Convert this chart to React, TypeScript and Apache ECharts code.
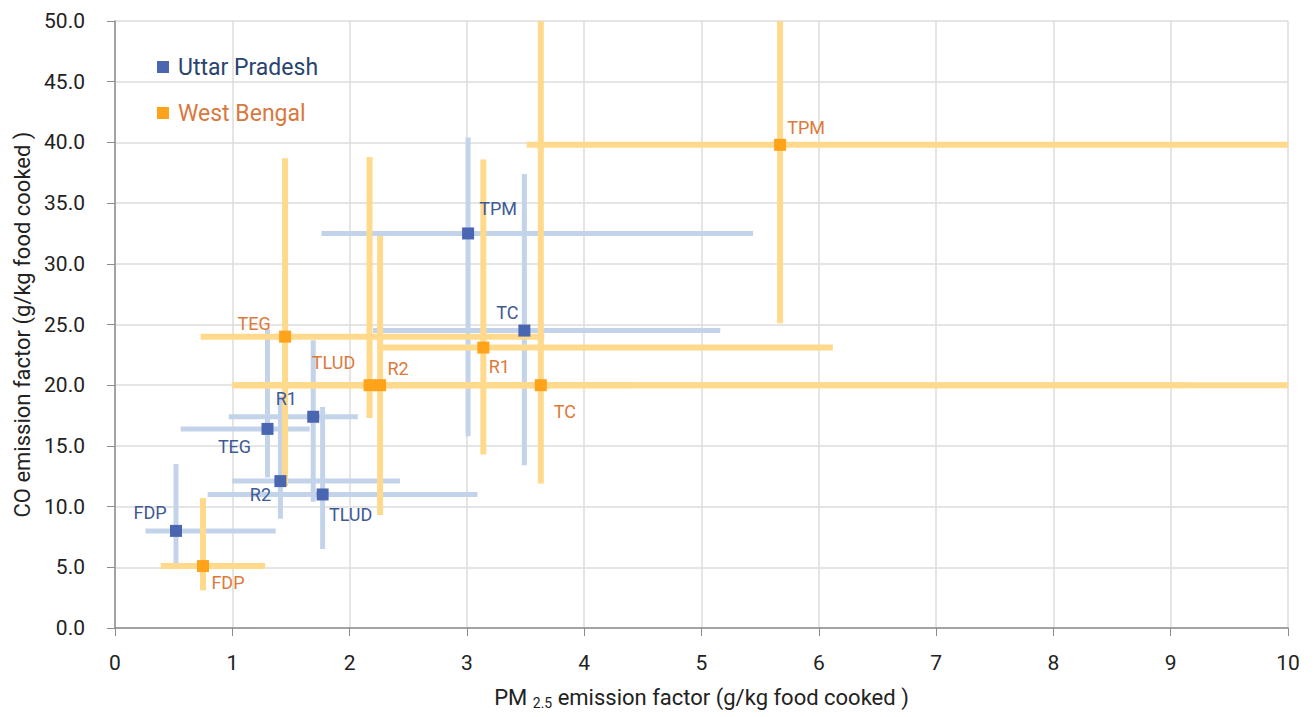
import React, { useEffect, useRef } from "react";
import * as echarts from "echarts";

// ---- data ----
const categories = ["FDP", "TEG", "R1", "R2", "TLUD", "TC", "TPM"];

// Uttar Pradesh
const upX = [0.52, 1.3, 1.69, 1.41, 1.77, 3.49, 3.01];
const upY = [8.0, 16.4, 17.4, 12.1, 11.0, 24.5, 32.5];
const upXLow = [0.26, 0.56, 0.97, 1.0, 0.79, 2.2, 1.76];
const upXHigh = [1.37, 1.66, 2.07, 2.43, 3.09, 5.16, 5.44];
const upYLow = [5.3, 12.4, 10.4, 9.0, 6.5, 13.4, 15.8];
const upYHigh = [13.5, 24.6, 23.7, 19.1, 18.2, 37.4, 40.4];

// West Bengal
const wbX = [0.75, 1.45, 3.14, 2.26, 2.17, 3.63, 5.67];
const wbY = [5.1, 24.0, 23.1, 20.0, 20.0, 20.0, 39.8];
const wbXLow = [0.39, 0.73, 2.28, 1.07, 1.0, 1.0, 3.51];
const wbXHigh = [1.28, 3.66, 6.12, 9.16, 4.4, 12.0, 12.0];
const wbYLow = [3.1, 11.7, 14.3, 9.3, 17.3, 11.9, 25.1];
const wbYHigh = [10.7, 38.7, 38.6, 32.3, 38.8, 60.0, 60.0];

const xTicks = [0, 10, 1];
const yTicks = [0, 50, 5];

// ---- label placement (styling, not data) ----
const upLabelOffsets: Record<string, [number, number]> = {
  FDP: [-26, -18],
  TEG: [-33, 18],
  R1: [-27, -18],
  R2: [-20, 13],
  TLUD: [28, 20],
  TC: [-17, -18],
  TPM: [30, -25],
};
const wbLabelOffsets: Record<string, [number, number]> = {
  FDP: [25, 16],
  TEG: [-31, -13],
  R1: [16, 19],
  R2: [18, -17],
  TLUD: [-36, -23],
  TC: [24, 26],
  TPM: [26, -17],
};

const FONT = "Roboto, 'Noto Sans', sans-serif";
const UP_MARK = "#4a66b1";
const UP_BAR = "#c3d4ea";
const WB_MARK = "#ffa31a";
const WB_BAR = "#ffd98c";
const UP_TEXT = "#3e5a94";
const WB_TEXT = "#dd7a3a";

function barRows(x: number[], y: number[], xl: number[], xh: number[], yl: number[], yh: number[]) {
  return x.map((v, i) => [v, y[i], xl[i], xh[i], yl[i], yh[i]]);
}

function makeRenderItem(color: string, width: number) {
  return (params: any, api: any) => {
    const cs = params.coordSys;
    const clampX = (v: number) => Math.max(cs.x, Math.min(cs.x + cs.width, v));
    const clampY = (v: number) => Math.max(cs.y, Math.min(cs.y + cs.height, v));
    const x = api.value(0);
    const y = api.value(1);
    const c = api.coord([x, y]);
    const l = api.coord([api.value(2), y]);
    const r = api.coord([api.value(3), y]);
    const b = api.coord([x, api.value(4)]);
    const t = api.coord([x, api.value(5)]);
    return {
      type: "group",
      children: [
        {
          type: "line",
          shape: { x1: clampX(l[0]), y1: c[1], x2: clampX(r[0]), y2: c[1] },
          style: { stroke: color, lineWidth: width },
        },
        {
          type: "line",
          shape: { x1: c[0], y1: clampY(b[1]), x2: c[0], y2: clampY(t[1]) },
          style: { stroke: color, lineWidth: width },
        },
      ],
    };
  };
}

function scatterData(x: number[], y: number[], offsets: Record<string, [number, number]>) {
  return x.map((v, i) => ({
    name: categories[i],
    value: [v, y[i]],
    label: { offset: offsets[categories[i]] },
  }));
}

export default function App() {
  const ref = useRef<HTMLDivElement>(null);
  useEffect(() => {
    if (!ref.current) return;
    const chart = echarts.init(ref.current, null, { renderer: "svg" });
    const axisLabel = { fontFamily: FONT, fontSize: 21, color: "#222" };
    chart.setOption({
      animation: false,
      backgroundColor: "#ffffff",
      grid: { left: 115, right: 26, top: 21, bottom: 89, containLabel: false },
      legend: {
        orient: "vertical",
        left: 157,
        top: 55,
        padding: 0,
        itemWidth: 12,
        itemHeight: 12,
        itemGap: 22,
        icon: "rect",
        itemStyle: { opacity: 1 },
        textStyle: { fontFamily: FONT, fontSize: 23, lineHeight: 24, padding: [0, 0, 0, 4] },
        data: [
          { name: "Uttar Pradesh", textStyle: { color: "#2a4470" } },
          { name: "West Bengal", textStyle: { color: "#d9783f" } },
        ],
      },
      xAxis: {
        type: "value",
        min: xTicks[0],
        max: xTicks[1],
        interval: xTicks[2],
        name: "PM {sub|2.5} emission factor (g/kg food cooked )",
        nameLocation: "middle",
        nameGap: 56,
        nameTextStyle: {
          fontFamily: FONT,
          fontSize: 22,
          color: "#222",
          rich: {
            sub: { fontFamily: FONT, fontSize: 14, color: "#222", verticalAlign: "bottom", padding: [12, 0, 0, 0] },
          },
        },
        axisLine: { show: true, onZero: false, lineStyle: { color: "#8c8c8c", width: 1.5 } },
        axisTick: { show: true, length: 8, lineStyle: { color: "#8c8c8c" } },
        axisLabel: { ...axisLabel, margin: 24 },
        splitLine: { show: true, lineStyle: { color: "#dcdcdc", width: 1.5 } },
      },
      yAxis: {
        type: "value",
        min: yTicks[0],
        max: yTicks[1],
        interval: yTicks[2],
        name: "CO emission factor (g/kg food cooked )",
        nameLocation: "middle",
        nameGap: 82,
        nameTextStyle: { fontFamily: FONT, fontSize: 22, color: "#222" },
        axisLine: { show: true, onZero: false, lineStyle: { color: "#8c8c8c", width: 1.5 } },
        axisTick: { show: true, length: 8, lineStyle: { color: "#8c8c8c" } },
        axisLabel: { ...axisLabel, margin: 30, formatter: (v: number) => v.toFixed(1) },
        splitLine: { show: true, lineStyle: { color: "#dcdcdc", width: 1.5 } },
      },
      series: [
        {
          type: "custom",
          name: "UP error",
          renderItem: makeRenderItem(UP_BAR, 5),
          encode: { x: 0, y: 1 },
          data: barRows(upX, upY, upXLow, upXHigh, upYLow, upYHigh),
          z: 1,
          silent: true,
        },
        {
          type: "custom",
          name: "WB error",
          renderItem: makeRenderItem(WB_BAR, 6),
          encode: { x: 0, y: 1 },
          data: barRows(wbX, wbY, wbXLow, wbXHigh, wbYLow, wbYHigh),
          z: 2,
          silent: true,
        },
        {
          type: "scatter",
          name: "Uttar Pradesh",
          symbol: "rect",
          symbolSize: 12,
          itemStyle: { color: UP_MARK, opacity: 1 },
          label: {
            show: true,
            position: "inside",
            formatter: "{b}",
            fontFamily: FONT,
            fontSize: 18,
            color: UP_TEXT,
          },
          data: scatterData(upX, upY, upLabelOffsets),
          z: 3,
        },
        {
          type: "scatter",
          name: "West Bengal",
          symbol: "rect",
          symbolSize: 12,
          itemStyle: { color: WB_MARK, opacity: 1 },
          label: {
            show: true,
            position: "inside",
            formatter: "{b}",
            fontFamily: FONT,
            fontSize: 18,
            color: WB_TEXT,
          },
          data: scatterData(wbX, wbY, wbLabelOffsets),
          z: 4,
        },
      ],
    });
    return () => chart.dispose();
  }, []);
  return (
    <div
      ref={ref}
      style={{ position: "fixed", left: 0, top: 0, width: 1314, height: 717, background: "#fff" }}
    />
  );
}
